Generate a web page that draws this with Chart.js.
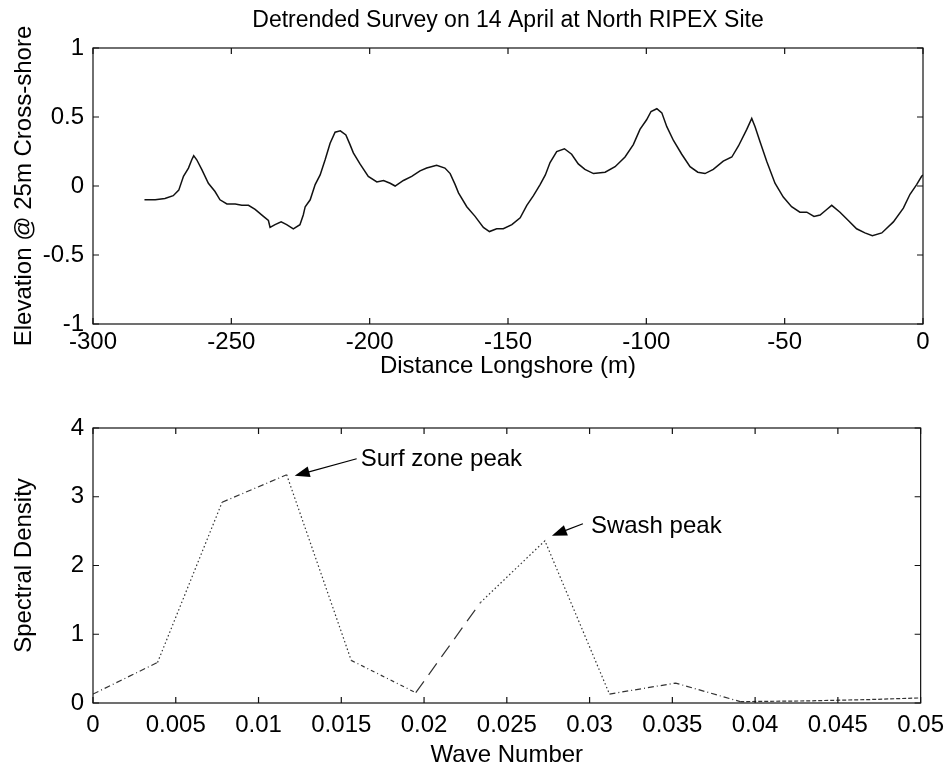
<!DOCTYPE html>
<html>
<head>
<meta charset="utf-8">
<script src="https://cdn.jsdelivr.net/npm/chart.js@4.4.1/dist/chart.umd.min.js"></script>
<style>
  body { margin: 0; background: #fff; }
  #wrap { position: relative; width: 952px; height: 771px; }
  canvas { position: absolute; left: 0; }
  #top { top: 0; }
  #bottom { top: 400px; }
</style>
</head>
<body>
<div id="wrap">
  <canvas id="top" width="952" height="400"></canvas>
  <canvas id="bottom" width="952" height="371"></canvas>
</div>
<script>
// Survey profile
const distance = [
  -281.4, -277.5, -274, -271, -269, -267.3, -265.5, -264.3, -263.6, -262.5,
  -260.7, -258.3, -255.9, -254.1, -251.6, -248.6, -246.2, -243.8, -241.4, -238.4,
  -236.6, -236, -234.2, -232, -230, -227.6, -225.2, -224, -223.3, -221.5,
  -219.7, -217.9, -216.1, -214.3, -212.5, -210.6, -208.6, -207.1, -205.9, -203.5,
  -200.5, -197.4, -195, -192.6, -190.8, -187.8, -184.8, -181.8, -179.4, -175.8,
  -172.8, -170.9, -169.1, -167.9, -164.9, -161.9, -158.9, -156.7, -154.1, -151.7,
  -148.6, -145.6, -143.2, -140.8, -138.4, -136.5, -134.8, -132.4, -129.6, -127,
  -124.6, -122.2, -119.1, -114.9, -111.3, -107.7, -104.7, -102.3, -99.9, -98.3,
  -96.2, -94.4, -92.6, -90.2, -87.2, -84.2, -81.4, -78.8, -75.8, -72.2,
  -69.1, -66.7, -63.7, -61.9, -60.7, -58.9, -56.5, -53.5, -50.5, -47.5,
  -44.5, -42, -39.4, -37.2, -34.8, -33, -30, -27, -24, -21,
  -18.3, -14.9, -10.7, -7.1, -4.7, -2.3, -0.5, 0
];
const elevation = [
  -0.10, -0.10, -0.09, -0.07, -0.03, 0.07, 0.13, 0.19, 0.22, 0.19,
  0.12, 0.02, -0.04, -0.10, -0.13, -0.13, -0.14, -0.14, -0.17, -0.22,
  -0.25, -0.30, -0.28, -0.26, -0.28, -0.31, -0.28, -0.21, -0.15, -0.10,
  0.01, 0.08, 0.19, 0.31, 0.39, 0.40, 0.37, 0.30, 0.24, 0.16,
  0.07, 0.03, 0.04, 0.02, 0.00, 0.04, 0.07, 0.11, 0.13, 0.15,
  0.13, 0.09, 0.01, -0.05, -0.15, -0.22, -0.30, -0.33, -0.31, -0.31,
  -0.28, -0.23, -0.14, -0.07, 0.01, 0.08, 0.17, 0.25, 0.27, 0.23,
  0.16, 0.12, 0.09, 0.10, 0.14, 0.21, 0.30, 0.41, 0.48, 0.54,
  0.56, 0.53, 0.43, 0.33, 0.23, 0.14, 0.10, 0.09, 0.12, 0.18,
  0.21, 0.29, 0.41, 0.49, 0.43, 0.32, 0.18, 0.02, -0.08, -0.15,
  -0.19, -0.19, -0.22, -0.21, -0.17, -0.14, -0.19, -0.25, -0.31, -0.34,
  -0.36, -0.34, -0.26, -0.16, -0.06, 0.01, 0.07, 0.08
];

// Spectrum (lower panel)
const waveNumber = [0, 0.0039, 0.0078, 0.0117, 0.0156, 0.0195, 0.0234, 0.0273,
  0.0312, 0.0352, 0.0391, 0.043, 0.0469, 0.0508];
const density = [0.13, 0.59, 2.92, 3.32, 0.62, 0.15, 1.46, 2.36,
  0.13, 0.29, 0.02, 0.03, 0.05, 0.08];

const distanceTicks = { min: -300, max: 0, step: 50 };
const elevationTicks = { min: -1, max: 1, step: 0.5 };
const waveTicks = { min: 0, max: 0.05, step: 0.005 };
const densityTicks = { min: 0, max: 4, step: 1 };

// dash pattern for each segment of the spectrum line (scanned look)
const segDash = [[6, 3, 1, 3], [1.5, 2.5], [6, 3, 1, 3], [1.5, 2.5], [4, 3, 1, 3], [14, 8],
  [1.5, 2.5], [1.5, 2.5], [6, 3, 1, 3], [6, 3, 1, 3], [4, 2], [4, 2], [4, 2]];

const FONT = "'Liberation Sans', Arial, Helvetica, sans-serif";
Chart.defaults.font.family = FONT;
Chart.defaults.font.size = 24;
Chart.defaults.color = '#000';

// MATLAB-like box with inward tick marks
const boxPlugin = {
  id: 'box',
  afterDatasetsDraw(chart) {
    const { ctx, chartArea: a, scales } = chart;
    ctx.save();
    ctx.strokeStyle = '#111';
    ctx.lineWidth = 1.2;
    ctx.strokeRect(a.left, a.top, a.right - a.left, a.bottom - a.top);
    ctx.beginPath();
    scales.x.ticks.forEach(t => {
      const px = scales.x.getPixelForValue(t.value);
      ctx.moveTo(px, a.bottom); ctx.lineTo(px, a.bottom - 6);
      ctx.moveTo(px, a.top); ctx.lineTo(px, a.top + 6);
    });
    scales.y.ticks.forEach(t => {
      const py = scales.y.getPixelForValue(t.value);
      ctx.moveTo(a.left, py); ctx.lineTo(a.left + 6, py);
      ctx.moveTo(a.right, py); ctx.lineTo(a.right - 6, py);
    });
    ctx.stroke();
    ctx.restore();
  }
};

const titlePlugin = {
  id: 'topTitle',
  afterDraw(chart) {
    const { ctx, chartArea: a } = chart;
    ctx.save();
    ctx.font = '23px ' + FONT;
    ctx.fillStyle = '#000';
    ctx.textAlign = 'center';
    ctx.textBaseline = 'middle';
    ctx.fillText('Detrended Survey on 14 April at North RIPEX Site', (a.left + a.right) / 2, 21);
    ctx.restore();
  }
};

function arrow(ctx, x0, y0, x1, y1) {
  const ang = Math.atan2(y1 - y0, x1 - x0);
  const len = 15, w = 5.5;
  ctx.beginPath();
  ctx.moveTo(x0, y0);
  ctx.lineTo(x1 - Math.cos(ang) * len * 0.8, y1 - Math.sin(ang) * len * 0.8);
  ctx.stroke();
  ctx.beginPath();
  ctx.moveTo(x1, y1);
  ctx.lineTo(x1 - Math.cos(ang) * len - Math.sin(ang) * w, y1 - Math.sin(ang) * len + Math.cos(ang) * w);
  ctx.lineTo(x1 - Math.cos(ang) * len + Math.sin(ang) * w, y1 - Math.sin(ang) * len - Math.cos(ang) * w);
  ctx.closePath();
  ctx.fill();
}

const notePlugin = {
  id: 'notes',
  afterDraw(chart) {
    const { ctx, scales: { x, y } } = chart;
    ctx.save();
    ctx.strokeStyle = '#000';
    ctx.fillStyle = '#000';
    ctx.lineWidth = 1.2;
    ctx.font = '24px ' + FONT;
    ctx.textBaseline = 'alphabetic';
    ctx.textAlign = 'left';

    const sx = x.getPixelForValue(waveNumber[3]), sy = y.getPixelForValue(density[3]);
    arrow(ctx, sx + 70, sy - 16, sx + 8, sy + 1);
    ctx.fillText('Surf zone peak', sx + 74, sy - 9);

    const wx = x.getPixelForValue(waveNumber[7]), wy = y.getPixelForValue(density[7]);
    arrow(ctx, wx + 38, wy - 17, wx + 7, wy - 5);
    ctx.fillText('Swash peak', wx + 46, wy - 8);
    ctx.restore();
  }
};

function fmt(v) {
  return String(Number(v.toFixed(4)));
}

new Chart(document.getElementById('top'), {
  type: 'line',
  data: {
    datasets: [{
      data: distance.map((d, i) => ({ x: d, y: elevation[i] })),
      borderColor: '#111',
      borderWidth: 1.5,
      pointRadius: 0,
      tension: 0,
      fill: false
    }]
  },
  options: {
    responsive: false,
    devicePixelRatio: 1,
    animation: false,
    layout: { padding: { top: 48, right: 29, left: 0, bottom: 0 } },
    plugins: { legend: { display: false }, tooltip: { enabled: false } },
    scales: {
      x: {
        type: 'linear',
        min: distanceTicks.min, max: distanceTicks.max,
        grid: { display: false, drawTicks: false }, border: { display: false },
        ticks: { stepSize: distanceTicks.step, padding: 4, maxRotation: 0, callback: fmt },
        title: { display: true, text: 'Distance Longshore (m)', padding: { top: 0, bottom: 19 } },
        afterFit: s => { s.height = 76; }
      },
      y: {
        min: elevationTicks.min, max: elevationTicks.max,
        grid: { display: false, drawTicks: false }, border: { display: false },
        ticks: { stepSize: elevationTicks.step, padding: 9, callback: fmt },
        title: { display: true, text: 'Elevation @ 25m Cross-shore', padding: { top: 10, bottom: 0 } },
        afterFit: s => { s.width = 93; }
      }
    }
  },
  plugins: [boxPlugin, titlePlugin]
});

new Chart(document.getElementById('bottom'), {
  type: 'line',
  data: {
    datasets: [{
      data: waveNumber.map((k, i) => ({ x: k, y: density[i] })),
      borderColor: '#333',
      borderWidth: 1.2,
      pointRadius: 0,
      tension: 0,
      fill: false,
      segment: { borderDash: ctx => segDash[ctx.p0DataIndex] || [] }
    }]
  },
  options: {
    responsive: false,
    devicePixelRatio: 1,
    animation: false,
    layout: { padding: { top: 28, right: 29, left: 0, bottom: 0 } },
    plugins: { legend: { display: false }, tooltip: { enabled: false } },
    scales: {
      x: {
        type: 'linear',
        min: waveTicks.min, max: waveTicks.max,
        grid: { display: false, drawTicks: false }, border: { display: false },
        ticks: { stepSize: waveTicks.step, padding: 8, maxRotation: 0, autoSkip: false, callback: fmt },
        title: { display: true, text: 'Wave Number', padding: { top: 0, bottom: 1 } },
        afterFit: s => { s.height = 68; }
      },
      y: {
        min: densityTicks.min, max: densityTicks.max,
        grid: { display: false, drawTicks: false }, border: { display: false },
        ticks: { stepSize: densityTicks.step, padding: 9, callback: fmt },
        title: { display: true, text: 'Spectral Density', padding: { top: 10, bottom: 0 } },
        afterFit: s => { s.width = 93; }
      }
    }
  },
  plugins: [boxPlugin, notePlugin]
});
</script>
</body>
</html>
